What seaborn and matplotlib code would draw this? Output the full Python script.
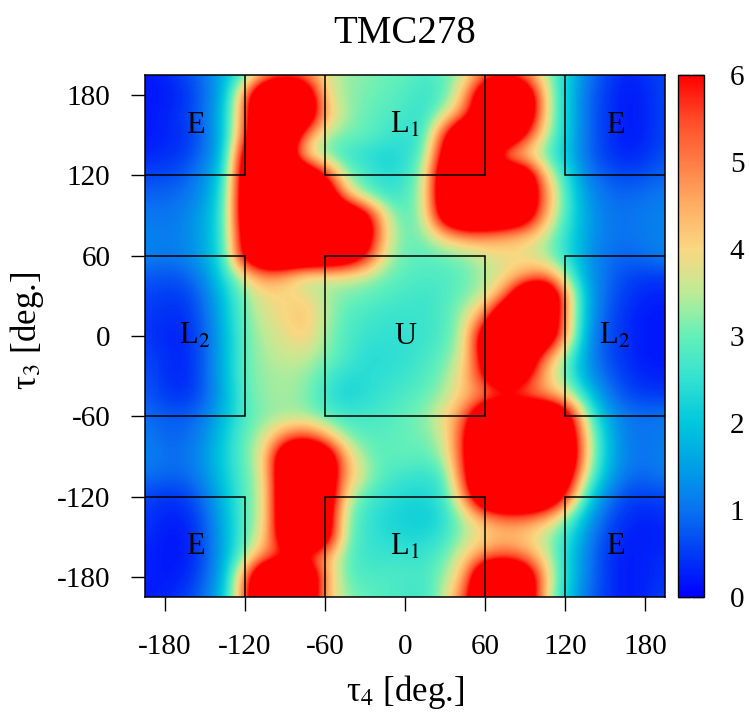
import numpy as np
import matplotlib
matplotlib.use("Agg")
import matplotlib.pyplot as plt
from matplotlib.patches import Rectangle
import seaborn as sns

# ---------------- data (free-energy surface) -------------
tau4 = [-195, -180, -165, -150, -135, -120, -105, -90, -75, -60, -45, -30, -15, 0,
        15, 30, 45, 60, 75, 90, 105, 120, 135, 150, 165, 180, 195]
tau3 = [195, 180, 165, 150, 135, 120, 105, 90, 75, 60, 45, 30, 15, 0,
        -15, -30, -45, -60, -75, -90, -105, -120, -135, -150, -165, -180, -195]

e_p195 = [0.2,0.3,0.6,1.0,1.8,2.8,4.5,5.2,5.0,3.8,3.3,3.2,3.0,3.0,2.7,3.0,3.5,5.2,5.6,5.0,3.5,2.3,1.2,0.6,0.3,0.4,0.6]
e_p180 = [0.2,0.2,0.4,0.9,1.8,5.0,9,9,8,4.0,3.3,3.1,3.0,2.8,2.6,2.8,4.5,8,9,8,4.0,2.2,1.0,0.5,0.2,0.3,0.6]
e_p165 = [0.2,0.3,0.5,1.0,2.0,5.2,9,9,8,4.5,3.4,3.0,2.8,2.7,2.5,3.6,5.2,8,9,8,4.0,2.2,1.0,0.5,0.2,0.3,0.6]
e_p150 = [0.2,0.3,0.4,0.9,1.9,5.5,9,8.5,5.0,3.4,3.1,3.0,2.7,2.5,2.6,6.0,9,9,8.5,6.0,3.6,2.2,1.0,0.5,0.2,0.3,0.6]
e_p135 = [0.3,0.4,0.5,1.0,2.0,7.0,9,7.5,3.8,3.0,2.6,2.4,2.2,2.4,3.0,7,8.5,7.5,4.2,3.8,3.0,2.0,1.0,0.5,0.3,0.4,0.7]
e_p120 = [0.6,0.6,0.8,1.3,2.3,7.5,9,9,8.5,6.2,3.3,2.8,2.4,2.5,3.5,8,9,9,8.5,8,4.2,2.6,1.2,0.8,0.6,0.7,0.9]
e_p105 = [0.9,0.9,1.0,1.4,2.6,7.5,9,9,9,8,4.5,3.0,2.6,2.7,3.6,8,9,9,9,8,5.0,2.8,1.5,1.0,0.9,1.0,1.1]
e_p090 = [1.1,1.0,1.2,1.6,2.7,7.5,9,9,9,9,8.5,7,3.8,2.8,3.5,7.5,9,9,8.5,7.5,4.5,2.8,1.6,1.1,1.0,1.1,1.2]
e_p075 = [1.2,1.1,1.2,1.6,2.7,7,9,9,9,9,8.5,7.5,4.0,3.0,3.2,4.2,4.8,4.8,4.5,4.2,3.6,2.5,1.6,1.1,1.0,1.1,1.2]
e_p060 = [1.2,1.1,1.2,1.6,2.6,6.8,8.5,9,9,8.5,8,6.2,3.6,3.0,2.9,3.0,3.2,3.6,3.9,3.8,3.3,2.5,1.5,1.0,0.9,1.0,1.2]
e_p045 = [0.8,0.7,0.8,1.3,2.4,3.8,4.8,4.3,3.3,3.5,3.6,3.4,3.1,2.9,2.8,2.8,3.0,3.4,3.8,4.5,5.0,3.4,1.6,1.0,0.6,0.5,0.5]
e_p030 = [0.6,0.5,0.5,1.0,2.0,3.2,3.9,4.0,4.0,3.4,3.1,3.0,2.8,2.7,2.6,2.8,3.1,3.5,5.0,8.5,9,5.0,1.8,0.9,0.5,0.3,0.3]
e_p015 = [0.5,0.4,0.4,0.9,1.9,3.1,3.7,4.0,4.3,3.5,2.9,2.7,2.6,2.6,2.6,2.8,3.5,5.0,8.5,9,8.5,4.8,1.8,0.8,0.4,0.2,0.2]
e_000 = [0.5,0.3,0.3,0.8,1.8,3.0,3.5,3.8,4.2,3.3,2.8,2.6,2.5,2.5,2.6,2.8,3.6,7.5,9,8.5,8,4.8,1.6,0.7,0.4,0.2,0.2]
e_m015 = [0.6,0.4,0.3,0.8,1.8,3.0,3.4,3.6,3.6,3.2,2.8,2.4,2.4,2.5,2.7,3.0,3.8,7,9,8,5.0,3.2,1.5,0.7,0.4,0.2,0.2]
e_m030 = [0.7,0.4,0.3,0.8,1.8,3.0,3.3,3.4,3.3,2.8,2.4,2.4,2.5,2.6,2.8,3.2,4.2,6.2,8.0,6.5,4.3,3.0,1.6,0.9,0.5,0.3,0.3]
e_m045 = [0.8,0.5,0.4,0.8,1.7,2.9,3.3,3.4,3.2,2.6,2.2,2.4,2.6,2.8,3.0,3.4,4.3,4.8,5.0,5.0,4.8,4.0,2.4,1.2,0.7,0.5,0.5]
e_m060 = [1.0,0.8,0.8,1.1,1.9,2.8,3.2,3.3,3.3,2.9,2.7,2.7,2.8,3.0,3.2,4.0,5.2,8.5,9,9,9,7.5,3.5,1.7,1.1,1.0,1.1]
e_m075 = [1.1,0.9,0.9,1.3,2.1,3.0,3.6,5.0,5.6,4.5,3.2,2.9,2.9,3.0,3.1,3.6,6.0,9,9,9,9,8,4.2,2.0,1.1,1.0,1.1]
e_m090 = [1.2,1.0,1.0,1.4,2.2,3.0,4.0,8,9,8,4.5,3.2,2.9,3.0,2.9,3.4,6.0,9,9,9,9,8.5,4.3,2.0,1.2,1.0,1.2]
e_m105 = [1.0,0.9,0.9,1.3,2.1,2.9,3.8,8,9,8,4.6,3.5,2.8,2.6,2.5,2.7,5.8,9,9,9,9,7.5,3.6,1.8,1.0,0.9,1.1]
e_m120 = [0.6,0.4,0.5,1.0,1.9,2.9,3.7,8,9,8,3.8,2.8,2.5,2.3,2.3,2.6,4.8,8.5,9,9,8.5,6.0,2.6,1.2,0.6,0.5,0.6]
e_m135 = [0.5,0.3,0.3,0.8,1.8,2.9,3.7,8,9,7.5,3.3,2.6,2.3,2.2,2.1,2.4,3.5,4.6,5.2,5.2,4.6,3.3,1.8,0.8,0.4,0.3,0.4]
e_m150 = [0.4,0.2,0.2,0.7,1.7,2.9,4.0,7.5,8.5,7.5,3.2,2.6,2.4,2.3,2.3,2.6,3.4,4.0,4.2,4.0,3.4,2.6,1.4,0.6,0.3,0.2,0.3]
e_m165 = [0.3,0.2,0.2,0.7,1.7,3.3,5.0,5.5,5.5,4.5,3.0,2.6,2.6,2.6,2.6,3.0,4.0,5.0,5.5,5.0,3.8,2.4,1.2,0.5,0.2,0.3,0.4]
e_m180 = [0.3,0.2,0.3,0.8,1.8,5.0,9,9,8.5,4.8,3.0,2.8,2.8,2.8,2.7,3.3,4.5,9,9,8,4.3,2.4,1.2,0.5,0.2,0.3,0.4]
e_m195 = [0.2,0.3,0.5,1.0,2.0,5.2,9,9,8,4.5,3.3,3.0,2.8,2.7,2.6,3.5,5.5,8.5,9,8,4.0,2.2,1.0,0.5,0.2,0.3,0.6]

axis_ticks = [-180, -120, -60, 0, 60, 120, 180]
cbar_ticks = [0, 1, 2, 3, 4, 5, 6]
title = "TMC278"
region_names = ["E", "L$_1$", "E", "L$_2$", "U", "L$_2$", "E", "L$_1$", "E"]
region_x = [-157.5, 0, 157.5, -157.5, 0, 157.5, -157.5, 0, 157.5]
region_y = [157.5, 157.5, 157.5, 0, 0, 0, -157.5, -157.5, -157.5]

energy = np.array([e_p195, e_p180, e_p165, e_p150, e_p135, e_p120, e_p105, e_p090,
                   e_p075, e_p060, e_p045, e_p030, e_p015, e_000, e_m015, e_m030,
                   e_m045, e_m060, e_m075, e_m090, e_m105, e_m120, e_m135, e_m150,
                   e_m165, e_m180, e_m195], dtype=float)

# ---------------- style ----------------
sns.set_theme(style="ticks")
plt.rcParams["font.family"] = ["Liberation Serif", "DejaVu Serif"]
plt.rcParams["mathtext.fontset"] = "stix"
for k in ["text.color", "axes.labelcolor", "xtick.color", "ytick.color", "axes.edgecolor"]:
    plt.rcParams[k] = "black"

cmap = sns.blend_palette(
    ["#0000ff", "#003cf5", "#0a73f0", "#00a0e6", "#00c8dc", "#32e1d2",
     "#64f0b9", "#beeb96", "#fad782", "#ffaf64", "#ff7d46", "#ff4b28", "#ff0000"],
    as_cmap=True)

W, H = 749, 717
fig = plt.figure(figsize=(W / 100, H / 100), dpi=100)
ax = fig.add_axes([145 / W, 1 - 597 / H, 520 / W, 522 / H])
cax = fig.add_axes([678 / W, 1 - 597 / H, 26 / W, 522 / H])

step = tau4[1] - tau4[0]
im = ax.imshow(energy, cmap=cmap, vmin=0, vmax=6, origin="upper",
               extent=[tau4[0] - step / 2, tau4[-1] + step / 2,
                       tau3[-1] - step / 2, tau3[0] + step / 2],
               interpolation="bicubic", interpolation_stage="data", aspect="auto")
ax.set_xlim(tau4[0], tau4[-1])
ax.set_ylim(tau3[-1], tau3[0])

# region boxes
for (x0, y0, w, h) in [(-220, 120, 100, 100), (-60, 120, 120, 100), (120, 120, 100, 100),
                       (-220, -60, 100, 120), (-60, -60, 120, 120), (120, -60, 100, 120),
                       (-220, -220, 100, 100), (-60, -220, 120, 100), (120, -220, 100, 100)]:
    ax.add_patch(Rectangle((x0, y0), w, h, fill=False, ec="black", lw=1.1, zorder=3))

for name, x, y in zip(region_names, region_x, region_y):
    ax.text(x, y, name, ha="center", va="center", fontsize=22, color="black", zorder=4)

ax.set_xticks(axis_ticks)
ax.set_yticks(axis_ticks)
ax.set_xticklabels([str(t) for t in axis_ticks])
ax.set_yticklabels([str(t) for t in axis_ticks])
ax.tick_params(axis="both", direction="out", length=10, width=1, labelsize=21,
               colors="black")
ax.tick_params(axis="x", pad=17)
ax.tick_params(axis="y", pad=15)
for s in ax.spines.values():
    s.set_color("black")
    s.set_linewidth(1.1)

cb = fig.colorbar(im, cax=cax, ticks=cbar_ticks)
cb.outline.set_edgecolor("black")
cb.outline.set_linewidth(1.0)
cax.tick_params(direction="in", length=8.5, width=1, left=True, right=True,
                labelsize=21, pad=18.5, colors="black")
cax.set_yticklabels([str(t) for t in cbar_ticks])

fig.text(405 / W, 1 - 43 / H, title, ha="center", va="baseline", fontsize=28,
         color="black")
fig.text(405 / W, 1 - 692 / H, "τ$_4$ [deg.]", ha="center", va="center",
         fontsize=25, color="black")
fig.text(27 / W, 1 - 331 / H, "τ$_3$ [deg.]", ha="center", va="center",
         fontsize=25, rotation=90, color="black")

fig.savefig("out.png", dpi=100)
